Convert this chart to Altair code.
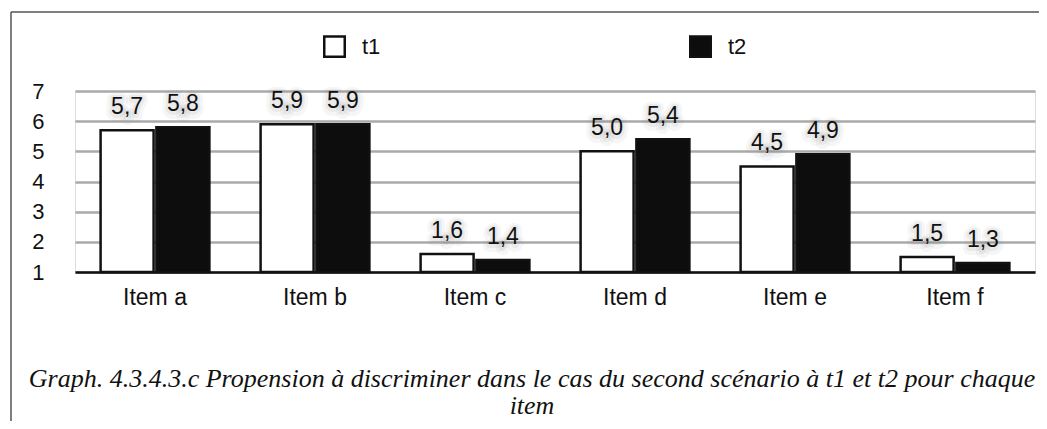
import altair as alt
import pandas as pd

items = ["Item a", "Item b", "Item c", "Item d", "Item e", "Item f"]
series = ["t1", "t2"]
t1_values = [5.7, 5.9, 1.6, 5.0, 4.5, 1.5]
t2_values = [5.8, 5.9, 1.4, 5.4, 4.9, 1.3]
y_ticks = [1, 2, 3, 4, 5, 6, 7]
caption = ["Graph. 4.3.4.3.c Propension à discriminer dans le cas du second scénario à t1 et t2 pour chaque",
           "item"]

rows = []
for i, it in enumerate(items):
    for s, vals in zip(series, [t1_values, t2_values]):
        v = vals[i]
        rows.append({"item": it, "serie": s, "value": v,
                     "label": f"{v:.1f}".replace(".", ",")})
df = pd.DataFrame(rows)

SANS = "Liberation Sans"

x = alt.X("item:N", sort=items, title=None,
          scale=alt.Scale(paddingInner=0.32, paddingOuter=0.16),
          axis=alt.Axis(labelAngle=0, labelFont=SANS, labelFontSize=23,
                        labelColor="#111", labelPadding=14, ticks=False,
                        domain=True, domainColor="#111", domainWidth=2.5,
                        grid=False))
xoff = alt.XOffset("serie:N", sort=series, scale=alt.Scale(paddingInner=0.05))
y = alt.Y("value:Q", title=None,
          scale=alt.Scale(domain=[1, 7], zero=False, nice=False),
          axis=alt.Axis(values=y_ticks, tickCount=7, labelFont=SANS, labelFontSize=22,
                        labelColor="#111", labelPadding=31, ticks=False,
                        labelOverlap=False, labelFlush=False,
                        domain=False, grid=True, gridColor="#aaaaaa",
                        gridWidth=2.5))

base = alt.Chart(df)

bars = base.mark_bar(stroke="#111", strokeWidth=2.5).encode(
    x=x, xOffset=xoff, y=y, y2=alt.datum(1),
    fill=alt.Fill("serie:N", sort=series,
                  scale=alt.Scale(domain=series, range=["#ffffff", "#0d0d0d"]),
                  legend=alt.Legend(title=None, orient="none", direction="horizontal",
                                    columns=2, legendX=248, legendY=-56,
                                    symbolType="square", symbolSize=420,
                                    symbolStrokeColor="#111", symbolStrokeWidth=2.5,
                                    labelFont=SANS, labelFontSize=22, labelColor="#111",
                                    labelOffset=16, columnPadding=304, padding=0)),
)

enc = dict(x=x, xOffset=xoff, y=y, text="label:N")

halo_wide = base.mark_text(baseline="alphabetic", dy=-14, font=SANS, fontSize=23,
                           stroke="#777777", strokeWidth=12, strokeOpacity=0.07,
                           strokeJoin="round", fillOpacity=0).encode(**enc)
halo_narrow = base.mark_text(baseline="alphabetic", dy=-15, font=SANS, fontSize=23,
                             stroke="#777777", strokeWidth=6, strokeOpacity=0.09,
                             strokeJoin="round", fillOpacity=0).encode(**enc)

labels = base.mark_text(baseline="alphabetic", dy=-16, font=SANS, fontSize=23,
                        color="#111").encode(**enc)

one = pd.DataFrame({"k": [0]})
frame_top = alt.Chart(one).mark_rule(color="#555555", strokeWidth=1.5).encode(
    x=alt.value(-64), x2=alt.value(1000), y=alt.value(-79))
frame_left = alt.Chart(one).mark_rule(color="#555555", strokeWidth=1.5).encode(
    x=alt.value(-64), y=alt.value(-79), y2=alt.value(400))

cap_style = dict(font="Liberation Serif", fontStyle="italic", fontSize=26,
                 align="center", baseline="alphabetic", color="#111")
cap1 = alt.Chart(one).mark_text(**cap_style).encode(
    x=alt.value(457), y=alt.value(296), text=alt.value(caption[0]))
cap2 = alt.Chart(one).mark_text(**cap_style).encode(
    x=alt.value(457), y=alt.value(323), text=alt.value(caption[1]))

chart = alt.layer(bars, halo_wide, halo_narrow, labels, frame_top, frame_left,
                  cap1, cap2).properties(
    width=960, height=181,
    padding={"left": 67, "top": 83, "right": 4, "bottom": 149},
    autosize=alt.AutoSizeParams(type="none"),
).configure_view(stroke=None).configure(background="white").configure_axis(
    labelOverlap=False)

chart.save("out.html", embed_options={"renderer": "svg", "actions": False})
